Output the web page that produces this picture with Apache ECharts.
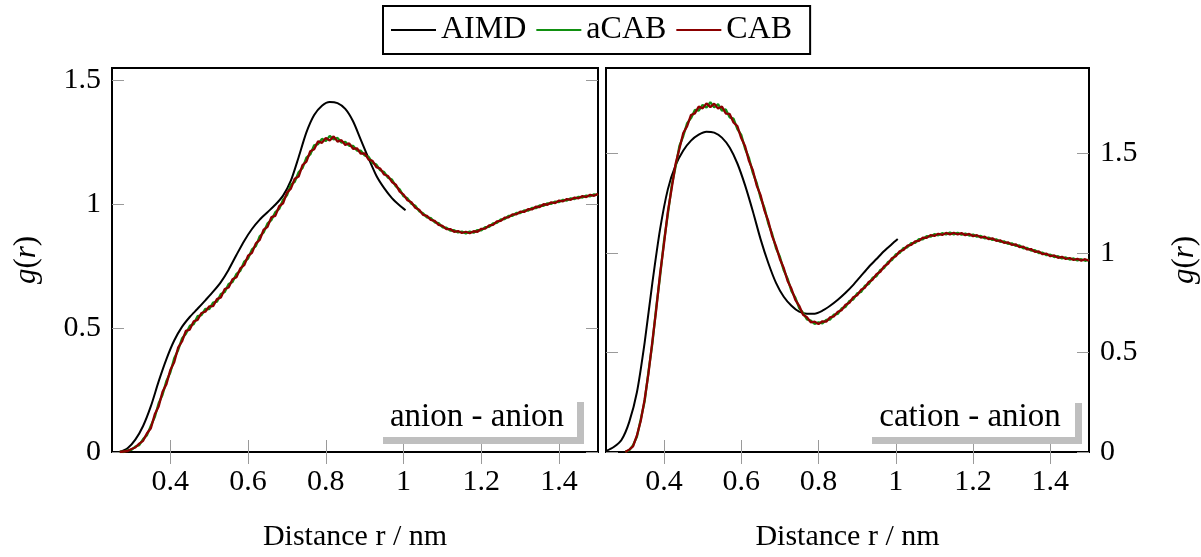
<!DOCTYPE html>
<html><head><meta charset="utf-8">
<script src="https://cdn.jsdelivr.net/npm/echarts@6/dist/echarts.min.js"></script>
<style>html,body{margin:0;padding:0;background:#fff;width:1201px;height:557px;overflow:hidden}#c{width:1201px;height:557px;overflow:hidden}</style>
</head><body><div id="c"></div>
<script>
// ---------- DATA ----------
const xTicks = [0.4, 0.6, 0.8, 1, 1.2, 1.4];
const yTicks = [0, 0.5, 1, 1.5];
const seriesNames = ['AIMD', 'aCAB', 'CAB'];

// anion - anion (left panel)
const aimdAA_r = [0.27,0.29,0.31,0.33,0.35,0.37,0.39,0.41,0.43,0.45,0.47,0.49,0.51,0.53,0.55,0.57,0.59,0.61,0.63,0.65,0.67,0.69,0.71,0.73,0.75,0.77,0.79,0.81,0.83,0.85,0.87,0.89,0.91,0.93,0.95,0.97,0.99,1.005];
const aimdAA_g = [0.000,0.015,0.05,0.105,0.185,0.285,0.375,0.45,0.505,0.545,0.578,0.612,0.647,0.686,0.736,0.795,0.852,0.900,0.938,0.968,0.998,1.035,1.095,1.19,1.29,1.36,1.398,1.413,1.408,1.385,1.335,1.26,1.185,1.115,1.065,1.025,0.995,0.976];
const cabAA_rStart = 0.27, cabAA_rStep = 0.01;
const cabAA_g = [0.000,0.002,0.004,0.012,0.018,0.034,0.045,0.076,0.096,0.152,0.184,0.243,0.274,0.331,0.362,0.421,0.446,0.489,0.494,0.527,0.533,0.561,0.566,0.588,0.589,0.617,0.624,0.658,0.664,0.697,0.705,0.741,0.754,0.792,0.804,0.842,0.856,0.897,0.909,0.948,0.953,0.992,1.004,1.047,1.063,1.103,1.112,1.158,1.172,1.214,1.222,1.254,1.248,1.268,1.257,1.274,1.253,1.259,1.239,1.246,1.224,1.226,1.204,1.205,1.180,1.175,1.150,1.144,1.120,1.114,1.090,1.079,1.051,1.039,1.016,1.008,0.986,0.978,0.957,0.953,0.937,0.933,0.917,0.913,0.900,0.900,0.889,0.892,0.884,0.889,0.883,0.891,0.889,0.901,0.902,0.915,0.917,0.931,0.933,0.946,0.947,0.959,0.959,0.970,0.969,0.980,0.979,0.990,0.989,1.000,0.998,1.008,1.005,1.015,1.012,1.021,1.018,1.027,1.024,1.033,1.029,1.038,1.034,1.042];
const acabAA_g = [0.001,0.000,0.007,0.009,0.022,0.028,0.052,0.068,0.106,0.141,0.197,0.231,0.287,0.321,0.378,0.411,0.458,0.477,0.509,0.516,0.548,0.552,0.578,0.577,0.603,0.607,0.638,0.646,0.678,0.686,0.719,0.731,0.768,0.781,0.818,0.831,0.871,0.886,0.923,0.936,0.968,0.981,1.018,1.036,1.079,1.091,1.129,1.146,1.188,1.201,1.238,1.243,1.264,1.255,1.276,1.262,1.268,1.249,1.252,1.236,1.236,1.217,1.216,1.197,1.191,1.167,1.160,1.137,1.130,1.107,1.100,1.072,1.060,1.032,1.024,1.002,0.994,0.972,0.964,0.947,0.944,0.927,0.924,0.907,0.906,0.894,0.895,0.886,0.890,0.882,0.890,0.885,0.896,0.895,0.908,0.909,0.923,0.925,0.939,0.940,0.953,0.953,0.965,0.964,0.975,0.974,0.985,0.984,0.995,0.994,1.004,1.002,1.011,1.009,1.018,1.015,1.024,1.021,1.030,1.027,1.035,1.032,1.040,1.037];

// cation - anion (right panel)
const aimdCA_r = [0.25,0.27,0.29,0.31,0.33,0.35,0.37,0.39,0.41,0.43,0.45,0.47,0.49,0.51,0.53,0.55,0.57,0.59,0.61,0.63,0.65,0.67,0.69,0.71,0.73,0.75,0.77,0.79,0.81,0.83,0.85,0.87,0.89,0.91,0.93,0.95,0.97,0.99,1.005];
const aimdCA_g = [0.005,0.025,0.06,0.15,0.30,0.55,0.85,1.12,1.32,1.44,1.515,1.565,1.595,1.61,1.605,1.58,1.53,1.45,1.34,1.21,1.07,0.95,0.85,0.78,0.735,0.705,0.695,0.695,0.71,0.735,0.765,0.80,0.84,0.885,0.93,0.97,1.01,1.045,1.07];
const cabCA_rStart = 0.30, cabCA_rStep = 0.01;
const cabCA_g = [0.000,0.012,0.028,0.083,0.157,0.264,0.396,0.556,0.716,0.896,1.045,1.207,1.325,1.447,1.524,1.603,1.638,1.694,1.702,1.736,1.727,1.752,1.733,1.751,1.726,1.736,1.701,1.699,1.656,1.638,1.578,1.537,1.463,1.416,1.339,1.291,1.214,1.161,1.085,1.035,0.970,0.925,0.860,0.820,0.765,0.735,0.690,0.677,0.652,0.655,0.643,0.657,0.655,0.677,0.682,0.705,0.713,0.740,0.750,0.778,0.788,0.815,0.826,0.855,0.866,0.894,0.906,0.934,0.946,0.974,0.984,1.009,1.016,1.037,1.041,1.059,1.061,1.077,1.076,1.090,1.086,1.097,1.091,1.101,1.094,1.102,1.093,1.100,1.090,1.096,1.085,1.090,1.078,1.082,1.070,1.074,1.061,1.064,1.051,1.054,1.041,1.044,1.030,1.032,1.018,1.020,1.006,1.008,0.994,0.997,0.984,0.988,0.976,0.981,0.970,0.975,0.965,0.971,0.962,0.969,0.961];
const acabCA_g = [0.002,0.008,0.034,0.077,0.165,0.255,0.405,0.545,0.727,0.884,1.058,1.194,1.338,1.433,1.538,1.588,1.653,1.678,1.719,1.716,1.745,1.731,1.758,1.732,1.748,1.716,1.722,1.682,1.676,1.623,1.594,1.524,1.478,1.403,1.352,1.278,1.227,1.148,1.096,1.024,0.981,0.913,0.871,0.808,0.776,0.723,0.700,0.666,0.660,0.644,0.652,0.646,0.664,0.666,0.691,0.694,0.722,0.729,0.759,0.767,0.797,0.804,0.835,0.844,0.875,0.884,0.915,0.925,0.955,0.965,0.993,1.000,1.025,1.029,1.050,1.051,1.070,1.069,1.085,1.082,1.095,1.089,1.100,1.093,1.103,1.094,1.102,1.092,1.098,1.088,1.093,1.082,1.086,1.074,1.078,1.066,1.069,1.056,1.059,1.046,1.049,1.036,1.038,1.024,1.026,1.012,1.014,1.000,1.002,0.989,0.992,0.980,0.984,0.973,0.978,0.967,0.973,0.963,0.969,0.961,0.967];

// ---------- BUILD ----------
function pairs(rs, gs) { return gs.map((g, i) => [rs[i], g]); }
function gridPairs(r0, dr, gs) { return gs.map((g, i) => [+(r0 + i * dr).toFixed(3), g]); }

const FONT = 'Liberation Serif';
const colors = { AIMD: '#000000', aCAB: '#119011', CAB: '#8b0000' };
const tickStyle = { show: true, inside: true, length: 12, lineStyle: { color: '#9a9a9a', width: 1 } };

function xAx(grid, pos, labels) {
  return {
    type: 'value', gridIndex: grid, position: pos, min: 0.25, max: 1.5,
    axisLine: { show: false }, splitLine: { show: false },
    axisTick: Object.assign({ customValues: xTicks }, tickStyle),
    axisLabel: labels ? { show: true, customValues: xTicks, fontFamily: FONT, fontSize: 30, color: '#000', margin: 15 } : { show: false },
    name: labels ? 'Distance r / nm' : '', nameLocation: 'middle', nameGap: 70,
    nameTextStyle: { fontFamily: FONT, fontSize: 30, color: '#000' }
  };
}
function yAx(grid, pos, max, labels) {
  return {
    type: 'value', gridIndex: grid, position: pos, min: 0, max: max,
    axisLine: { show: false }, splitLine: { show: false },
    axisTick: Object.assign({ customValues: yTicks }, tickStyle),
    axisLabel: labels ? { show: true, customValues: yTicks, fontFamily: FONT, fontSize: 30, color: '#000', margin: 11 } : { show: false },
    name: labels ? '{i|g}({i|r})' : '', nameLocation: 'middle', nameRotate: 90,
    nameGap: pos === 'left' ? 70 : 80,
    nameTextStyle: { fontFamily: FONT, fontSize: 31, color: '#000', rich: { i: { fontFamily: FONT, fontSize: 31, fontStyle: 'italic', color: '#000' } } }
  };
}

function line(name, data, xi, yi, smooth, width) {
  return {
    name, type: 'line', data, xAxisIndex: xi, yAxisIndex: yi, showSymbol: false, symbol: 'none',
    smooth: smooth, lineStyle: { color: colors[name], width: width }, itemStyle: { color: colors[name] }, clip: true
  };
}

const option = {
  animation: false,
  backgroundColor: '#fff',
  grid: [
    { left: 112, top: 68, width: 486, height: 387, show: true, borderColor: '#000', borderWidth: 2, backgroundColor: 'transparent' },
    { left: 606, top: 68, width: 486, height: 387, show: true, borderColor: '#000', borderWidth: 2, backgroundColor: 'transparent' }
  ],
  xAxis: [xAx(0, 'bottom', true), xAx(1, 'bottom', true), xAx(0, 'top', false), xAx(1, 'top', false)],
  yAxis: [yAx(0, 'left', 1.55, true), yAx(1, 'right', 1.93, true), yAx(0, 'right', 1.55, false), yAx(1, 'left', 1.93, false)],
  legend: {
    data: seriesNames.map(n => ({ name: n, icon: 'rect' })),
    left: 383, top: 6, itemWidth: 45, itemHeight: 2, itemGap: 10,
    borderColor: '#000', borderWidth: 2, padding: [8, 18, 8, 8],
    textStyle: { fontFamily: FONT, fontSize: 32, color: '#000', lineHeight: 32 }
  },
  series: [
    line('AIMD', pairs(aimdAA_r, aimdAA_g), 0, 0, 0.25, 2),
    line('aCAB', gridPairs(cabAA_rStart, cabAA_rStep, acabAA_g), 0, 0, false, 2.3),
    line('CAB', gridPairs(cabAA_rStart, cabAA_rStep, cabAA_g), 0, 0, false, 2.3),
    line('AIMD', pairs(aimdCA_r, aimdCA_g), 1, 1, 0.25, 2),
    line('aCAB', gridPairs(cabCA_rStart, cabCA_rStep, acabCA_g), 1, 1, false, 2.3),
    line('CAB', gridPairs(cabCA_rStart, cabCA_rStep, cabCA_g), 1, 1, false, 2.3)
  ],
  graphic: [
    { type: 'rect', shape: { x: 383, y: 402, width: 201, height: 42 }, style: { fill: '#bfbfbf' }, z: 10 },
    { type: 'rect', shape: { x: 376, y: 395, width: 201, height: 42 }, style: { fill: '#fff' }, z: 11 },
    { type: 'text', x: 477, y: 417, style: { text: 'anion - anion', fontFamily: FONT, fontSize: 33, fill: '#000', align: 'center', verticalAlign: 'middle' }, z: 12 },
    { type: 'rect', shape: { x: 872, y: 403, width: 210, height: 41 }, style: { fill: '#bfbfbf' }, z: 10 },
    { type: 'rect', shape: { x: 865, y: 396, width: 210, height: 41 }, style: { fill: '#fff' }, z: 11 },
    { type: 'text', x: 970, y: 417, style: { text: 'cation - anion', fontFamily: FONT, fontSize: 33, fill: '#000', align: 'center', verticalAlign: 'middle' }, z: 12 }
  ]
};

const chart = echarts.init(document.getElementById('c'), null, { renderer: 'canvas' });
chart.setOption(option);
</script></body></html>
